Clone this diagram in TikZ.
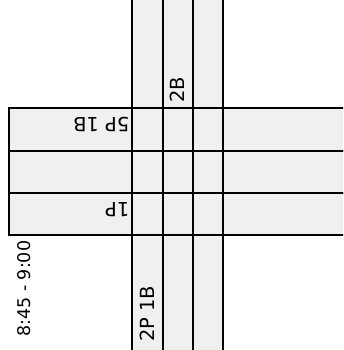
\documentclass[tikz,border=0pt]{standalone}
\usepackage{fontspec}
\setmainfont{DejaVu Sans}
\begin{document}
\begin{tikzpicture}[x=1pt,y=1pt,
  cell/.style={draw=black, line width=2pt, fill=cellgray, inner sep=0pt, outer sep=0pt},
  lbl/.style={inner sep=0pt, font=\fontsize{19.5}{23}\selectfont},
  tlbl/.style={inner sep=0pt, font=\fontsize{17.5}{21}\selectfont}]
\definecolor{cellgray}{HTML}{F0F0F0}
\useasboundingbox (0,0) rectangle (343,350);
\clip (0,0) rectangle (343,350);
% vertical columns (image y: -10 .. 344)
\node[cell, minimum width=31pt, minimum height=364pt, anchor=north west] (c1) at (132,360) {};
\node[cell, minimum width=30pt, minimum height=364pt, anchor=north west] (c2) at (163,360) {};
\node[cell, minimum width=30pt, minimum height=364pt, anchor=north west] (c3) at (193,360) {};
% horizontal rows
\node[cell, minimum width=350pt, minimum height=42.5pt, anchor=north west] (r1) at (9,241.5) {};
\node[cell, minimum width=350pt, minimum height=42pt, anchor=north west] (r2) at (9,199) {};
\node[cell, minimum width=350pt, minimum height=42pt, anchor=north west] (r3) at (9,157) {};
% column outlines over the rows
\foreach \c in {c1,c2,c3}
  \draw[line width=2pt] (\c.north west) rectangle (\c.south east);
% labels
\node[lbl, rotate=90, anchor=west] (t2b) at (177.5,247) {2B};
\node[lbl, rotate=180, anchor=west] (t5p) at (129.5,225.5) {5P 1B};
\node[lbl, rotate=180, anchor=west] (t1p) at (129.5,140.5) {1P};
\node[lbl, rotate=90, anchor=west] (t2p) at (147,8) {2P 1B};
\node[tlbl, rotate=90, anchor=west] (tt) at (24,13) {8:45 - 9:00};
\end{tikzpicture}
\end{document}
